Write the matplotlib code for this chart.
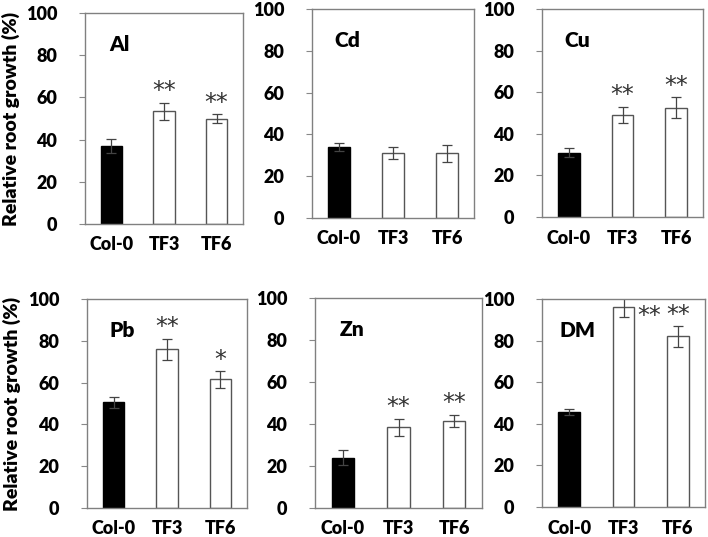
import matplotlib.pyplot as plt

plt.rcParams['font.family'] = ['Lato', 'DejaVu Sans']

categories = ["Col-0", "TF3", "TF6"]
metals = ["Al", "Cd", "Cu", "Pb", "Zn", "DM"]

al_mean = [37, 53.5, 50]
al_err = [3.5, 4, 2]
cd_mean = [34, 31, 31]
cd_err = [2, 3, 4]
cu_mean = [31, 49, 52.5]
cu_err = [2, 4, 5]
pb_mean = [50.5, 76, 61.5]
pb_err = [2.5, 5, 4]
zn_mean = [24, 38.5, 41.5]
zn_err = [3.5, 4, 3]
dm_mean = [45.5, 96, 82]
dm_err = [1.5, 4.5, 5]

# significance marks per bar
al_sig = ["", "**", "**"]
cd_sig = ["", "", ""]
cu_sig = ["", "**", "**"]
pb_sig = ["", "**", "*"]
zn_sig = ["", "**", "**"]
dm_sig = ["", "**", "**"]

means = [al_mean, cd_mean, cu_mean, pb_mean, zn_mean, dm_mean]
errs = [al_err, cd_err, cu_err, pb_err, zn_err, dm_err]
sigs = [al_sig, cd_sig, cu_sig, pb_sig, zn_sig, dm_sig]

W, H = 708, 537
# panel boxes in pixels: left, right, top, bottom
boxes = [(85, 243, 13, 224), (312, 474, 9, 218), (542, 703, 9, 217),
         (87, 247, 299, 508), (315, 482, 298, 508), (542, 705, 299, 507)]

fig = plt.figure(figsize=(W / 100, H / 100), dpi=100)

for i, name in enumerate(metals):
    l, r, t, b = boxes[i]
    ax = fig.add_axes([l / W, 1 - b / H, (r - l) / W, (b - t) / H])
    x = range(len(categories))
    ax.bar(x, means[i], width=0.4, color=["black", "white", "white"],
           edgecolor=["black", "#555555", "#555555"], linewidth=1,
           yerr=errs[i], error_kw=dict(ecolor="#444444", elinewidth=0.9,
                                       capsize=3.5, capthick=0.9))
    ax.set_xlim(-0.5, 2.5)
    ax.set_ylim(0, 100)
    ax.set_yticks([0, 20, 40, 60, 80, 100])
    ax.set_xticks(list(x))
    ax.set_xticklabels(categories, fontsize=13, fontweight="heavy")
    for lab in ax.get_yticklabels():
        lab.set_fontsize(13)
        lab.set_fontweight("heavy")
    ax.tick_params(axis="x", length=0, pad=9)
    ax.tick_params(axis="y", length=4, color="#888888", pad=16)
    for sp in ax.spines.values():
        sp.set_color("#808080")
        sp.set_linewidth(1)
    ax.text(0.22, 0.85, name, transform=ax.transAxes, fontsize=15,
            fontweight="heavy", ha="center", va="center")
    for j, s in enumerate(sigs[i]):
        if not s:
            continue
        top = means[i][j] + errs[i][j]
        if top > 95:
            ax.text(j + 0.47, 92, s, ha="center", va="center", fontsize=17,
                    color="#333333", family="DejaVu Sans")
        else:
            ax.text(j, top + 5.5, s, ha="center", va="center", fontsize=17,
                    color="#333333", family="DejaVu Sans")
    if i % 3 == 0:
        ax.set_ylabel("Relative root growth (%)", fontsize=14,
                      fontweight="heavy")
        ax.yaxis.set_label_coords(-0.41, 0.5)

plt.savefig("out.png", dpi=100)
